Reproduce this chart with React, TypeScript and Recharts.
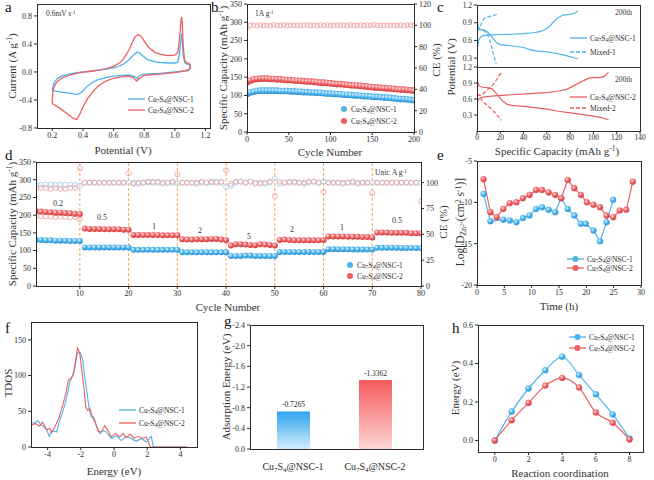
import React from "react";
import {
  LineChart,
  Line,
  XAxis,
  YAxis,
  ScatterChart,
  Scatter,
  ReferenceLine,
  BarChart,
  Bar,
  Cell,
} from "recharts";

const SERIF = "'Times New Roman', 'Liberation Serif', Times, serif";
const INK = "#2b2b2b";
const BLUE = "#4db4ea";
const RED = "#ec5f62";
const BLUE_LT = "#9fd3f1";
const RED_LT = "#f3a3a4";
const ORANGE = "#f5a65b";

// ---- a: cyclic voltammetry, 0.6 mV/s (loops, drawn in scan order)
const cvBlue = [
  [0.2, -0.27], [0.205, -0.2], [0.215, -0.14], [0.23, -0.1], [0.26, -0.06], [0.3, -0.035],
  [0.35, -0.015], [0.4, 0.0], [0.45, 0.01], [0.5, 0.025], [0.55, 0.04], [0.6, 0.06],
  [0.64, 0.085], [0.67, 0.12], [0.7, 0.17], [0.72, 0.22], [0.74, 0.26], [0.755, 0.285],
  [0.77, 0.27], [0.79, 0.23], [0.82, 0.18], [0.86, 0.15], [0.9, 0.138], [0.95, 0.128],
  [1.0, 0.128], [1.02, 0.14], [1.03, 0.25], [1.04, 0.45], [1.045, 0.555], [1.05, 0.45],
  [1.055, 0.25], [1.065, 0.13], [1.08, 0.11], [1.1, 0.1], [1.1, 0.05],
  [1.09, 0.02], [1.05, 0.01], [1.0, 0.0], [0.95, -0.01], [0.9, -0.02], [0.85, -0.025],
  [0.8, -0.03], [0.77, -0.05], [0.755, -0.09], [0.74, -0.07], [0.72, -0.05], [0.7, -0.045],
  [0.65, -0.05], [0.6, -0.06], [0.55, -0.08], [0.5, -0.11], [0.46, -0.15], [0.42, -0.22],
  [0.39, -0.29], [0.37, -0.32], [0.35, -0.315], [0.3, -0.3], [0.25, -0.285], [0.22, -0.275],
  [0.2, -0.27],
];
const cvRed = [
  [0.2, -0.45], [0.203, -0.3], [0.21, -0.22], [0.23, -0.14], [0.27, -0.08], [0.32, -0.04],
  [0.38, -0.01], [0.45, 0.01], [0.5, 0.025], [0.55, 0.045], [0.6, 0.08], [0.64, 0.13],
  [0.67, 0.2], [0.7, 0.31], [0.72, 0.41], [0.74, 0.5], [0.76, 0.535], [0.78, 0.51],
  [0.8, 0.44], [0.83, 0.35], [0.87, 0.28], [0.91, 0.25], [0.95, 0.235], [1.0, 0.24],
  [1.02, 0.28], [1.03, 0.45], [1.04, 0.72], [1.045, 0.785], [1.05, 0.65], [1.055, 0.35],
  [1.065, 0.16], [1.08, 0.13], [1.1, 0.11], [1.1, 0.05],
  [1.09, 0.03], [1.05, 0.01], [1.0, -0.01], [0.9, -0.03], [0.8, -0.05], [0.77, -0.09],
  [0.75, -0.13], [0.73, -0.08], [0.7, -0.06], [0.65, -0.07], [0.6, -0.09], [0.55, -0.13],
  [0.5, -0.2], [0.47, -0.27], [0.43, -0.38], [0.4, -0.5], [0.38, -0.6], [0.36, -0.68],
  [0.33, -0.65], [0.3, -0.6], [0.25, -0.52], [0.2, -0.45],
];
const aXTicks = [0.2, 0.4, 0.6, 0.8, 1.0, 1.2];
const aYTicks = [-0.8, -0.4, 0, 0.4, 0.8];

// ---- b: cycling at 1 A/g (every 4th cycle)
const bCycle = [
  0, 4, 8, 12, 16, 20, 24, 28, 32, 36, 40, 44, 48, 52, 56, 60, 64, 68, 72, 76, 80, 84, 88, 92,
  96, 100, 104, 108, 112, 116, 120, 124, 128, 132, 136, 140, 144, 148, 152, 156, 160, 164, 168,
  172, 176, 180, 184, 188, 192, 196, 200,
];
const bCapBlue = [
  104, 108, 110, 112, 113, 113, 113, 113, 113, 113, 112, 112, 112, 111, 111, 110, 110, 109, 109,
  108, 108, 107, 107, 106, 105, 105, 104, 104, 103, 102, 102, 101, 100, 100, 99, 98, 98, 97, 96,
  96, 95, 94, 94, 93, 92, 91, 90, 90, 89, 88, 87,
];
const bCapRed = [
  136, 141, 144, 145, 146, 146, 146, 145, 145, 144, 144, 143, 142, 142, 141, 140, 140, 139, 138,
  138, 137, 136, 135, 135, 134, 133, 132, 131, 131, 130, 129, 128, 127, 127, 126, 125, 124, 123,
  122, 122, 121, 120, 119, 119, 118, 117, 116, 116, 115, 114, 113,
];
const bCE = [
  97.5, 99.8, 100.2, 99.6, 100.3, 99.9, 100.1, 99.7, 100.4, 99.8, 100, 100.3, 99.6, 100.1, 99.9,
  100.2, 99.7, 100, 100.4, 99.8, 100.1, 99.6, 100.2, 99.9, 100.3, 99.7, 100, 100.2, 99.8, 100.1,
  99.6, 100.3, 99.9, 100, 100.2, 99.7, 100.1, 99.8, 100.3, 99.9, 100, 99.7, 100.2, 99.9, 100.1,
  99.8, 100.3, 99.6, 100, 100.2, 99.9,
];

// ---- c: GCD profiles at 200th cycle
const cBlueCh = [
  [0, 0.45], [0.5, 0.5], [1.5, 0.6], [3, 0.66], [6, 0.685], [12, 0.695], [20, 0.7], [30, 0.705],
  [40, 0.715], [48, 0.73], [54, 0.75], [58, 0.78], [62, 0.83], [66, 0.92], [70, 0.99],
  [74, 1.03], [80, 1.04], [84, 1.06], [86.5, 1.1],
];
const cBlueDis = [
  [0.3, 0.96], [1, 0.85], [2, 0.79], [5, 0.78], [8, 0.76], [11, 0.7], [14, 0.63], [17, 0.56],
  [20, 0.53], [29, 0.51], [40, 0.48], [46, 0.44], [52, 0.42], [63, 0.4], [75, 0.35],
  [86.5, 0.29],
];
const cMix1Ch = [[0, 0.76], [2, 0.8], [4, 0.9], [6, 0.97], [10, 1.0], [14, 1.02], [18, 1.05]];
const cMix1Dis = [[0, 0.8], [3, 0.78], [6, 0.77], [9, 0.7], [11, 0.6], [13, 0.45], [15, 0.3], [16.5, 0.2]];
const cRedCh = [
  [0, 0.55], [2, 0.61], [6, 0.64], [15, 0.66], [30, 0.68], [45, 0.7], [60, 0.72], [70, 0.75],
  [77, 0.78], [85, 0.87], [92, 0.95], [97, 1.0], [105, 1.0], [109, 1.02], [113, 1.1],
];
const cRedDis = [
  [0, 0.93], [1, 0.9], [2, 0.84], [5, 0.82], [10, 0.81], [13, 0.79], [16, 0.72], [19, 0.64],
  [22, 0.56], [26, 0.5], [30, 0.48], [40, 0.46], [50, 0.44], [60, 0.41], [70, 0.37], [80, 0.34],
  [90, 0.31], [100, 0.28], [107, 0.25], [113, 0.21],
];
const cMix2Ch = [[0, 0.66], [4, 0.68], [8, 0.75], [12, 0.83], [15, 0.9], [17, 0.97], [19, 1.04], [21, 1.09]];
const cMix2Dis = [[0, 0.72], [2, 0.65], [5, 0.55], [9, 0.48], [13, 0.4], [16, 0.33], [19, 0.25], [21, 0.2]];
const cXTicks = [0, 20, 40, 60, 80, 100, 120, 140];
const cYTicks = [0.3, 0.6, 0.9, 1.2];

// ---- d: rate performance
const dCycle = Array.from({ length: 80 }, (_, i) => i + 1);
const dCapBlue = [
  130, 130, 129, 129, 128, 128, 128, 127, 127, 127,
  109, 109, 109, 109, 109, 109, 109, 109, 109, 109,
  102, 102, 102, 102, 102, 102, 102, 102, 102, 102,
  95, 95, 95, 95, 95, 95, 95, 95, 95, 95,
  85, 85, 85, 86, 86, 85, 85, 85, 85, 85,
  96, 96, 96, 96, 96, 96, 96, 96, 96, 96,
  104, 104, 104, 104, 104, 103, 103, 103, 103, 103,
  108, 108, 108, 108, 108, 107, 107, 107, 107, 107,
];
const dCapRed = [
  211, 210, 209, 208, 207, 207, 206, 205, 204, 203,
  162, 161, 161, 161, 160, 160, 160, 160, 159, 159,
  144, 144, 144, 144, 144, 144, 143, 143, 143, 143,
  132, 131, 131, 132, 132, 132, 133, 133, 131, 129,
  114, 118, 118, 117, 116, 115, 118, 117, 116, 114,
  130, 131, 130, 129, 129, 129, 129, 129, 129, 130,
  140, 140, 140, 140, 139, 139, 139, 138, 138, 137,
  151, 151, 151, 150, 150, 150, 150, 149, 149, 149,
];
const dCEBlue = [
  98, 98, 98, 98, 98, 98, 98, 98, 98, 97,
  100, 100, 100, 100, 100, 100, 100, 100, 100, 100,
  100, 99, 100, 100, 101, 100, 99, 100, 100, 99,
  100, 100, 100, 99, 100, 100, 100, 101, 100, 96,
  97, 100, 101, 100, 101, 100, 99, 99, 100, 104,
  99, 100, 101, 100, 100, 99, 100, 101, 100, 101,
  100, 100, 100, 99, 100, 100, 99, 100, 100, 100,
  100, 100, 100, 100, 100, 100, 100, 100, 100, 100,
];
const dCERed = [
  95, 95, 95, 94, 95, 94, 94, 95, 95, 114,
  100, 100, 100, 100, 100, 100, 100, 100, 100, 109,
  99, 100, 100, 101, 100, 101, 100, 100, 101, 108,
  100, 100, 100, 100, 101, 100, 101, 100, 101, 112,
  99, 101, 101, 100, 101, 99, 100, 100, 101, 87,
  101, 100, 100, 101, 100, 100, 101, 101, 100, 91,
  100, 100, 100, 100, 100, 101, 100, 100, 100, 90,
  100, 100, 100, 100, 100, 100, 100, 100, 100, 82,
];
const dRedOpenFirst = [198, 197, 196, 196, 195, 195, 195, 194, 194, 188];
const dSwitch = [10, 20, 30, 40, 50, 60, 70];

// ---- e: GITT diffusion coefficient
const eBlue = [
  [1.2, -9.0], [2.45, -12.3], [4.8, -12.1], [6.0, -12.2], [7.2, -12.4], [8.4, -11.9],
  [9.6, -11.6], [10.8, -10.8], [11.9, -10.6], [13.1, -10.9], [14.3, -11.2], [15.4, -9.5],
  [16.6, -10.8], [17.8, -11.6], [19.0, -12.6], [19.9, -12.6], [21.3, -13.4], [22.5, -14.7],
  [23.7, -12.4], [24.9, -9.7],
];
const eRed = [
  [1.2, -7.2], [2.45, -11.2], [3.6, -11.8], [4.8, -10.8], [6.0, -10.1], [7.2, -10.0],
  [8.4, -9.5], [9.6, -9.1], [10.8, -8.5], [11.9, -8.5], [13.1, -8.8], [14.3, -9.1],
  [15.4, -9.5], [16.6, -7.3], [17.8, -8.3], [19.0, -9.1], [20.1, -10.0], [21.3, -10.3],
  [22.5, -10.6], [23.7, -11.6], [24.9, -11.8], [26.1, -11.0], [27.3, -10.9], [28.5, -7.5],
];

// ---- f: TDOS
const fBlue = [
  [-5, 35], [-4.8, 33], [-4.6, 37], [-4.4, 31], [-4.2, 28], [-4.0, 21], [-3.9, 15], [-3.75, 23],
  [-3.6, 22], [-3.45, 21], [-3.3, 35], [-3.06, 51], [-2.86, 68], [-2.66, 91], [-2.56, 96],
  [-2.46, 103], [-2.36, 110], [-2.22, 131], [-2.06, 133], [-1.9, 124], [-1.76, 98], [-1.62, 75],
  [-1.5, 54], [-1.36, 42], [-1.22, 42], [-1.06, 30], [-0.86, 19], [-0.66, 23], [-0.46, 21],
  [-0.16, 12], [0.14, 16], [0.44, 9], [0.74, 15], [1.04, 12], [1.34, 8], [1.64, 12], [1.94, 7],
  [2.24, 15], [2.38, 0], [4.4, 0],
];
const fRed = [
  [-5, 30], [-4.74, 33], [-4.48, 29], [-4.3, 35], [-4.06, 24], [-3.86, 26], [-3.76, 20],
  [-3.56, 28], [-3.3, 42], [-3.06, 61], [-2.9, 75], [-2.76, 93], [-2.62, 96], [-2.46, 100],
  [-2.34, 117], [-2.2, 139], [-2.06, 131], [-1.94, 107], [-1.82, 84], [-1.7, 56], [-1.58, 51],
  [-1.46, 54], [-1.3, 42], [-1.14, 35], [-0.96, 22], [-0.76, 21], [-0.56, 30], [-0.36, 23],
  [-0.16, 14], [0.1, 19], [0.34, 14], [0.54, 19], [0.74, 13], [0.98, 18], [1.2, 12], [1.44, 15],
  [1.7, 12], [1.94, 14], [2.1, 6], [2.18, 0], [4.4, 0],
];

// ---- g: adsorption energy
const gNames = ["Cu7S4@NSC-1", "Cu7S4@NSC-2"];
const gValues = [-0.7265, -1.3362];

// ---- h: diffusion barrier
const hCoord = [0, 1, 2, 3, 4, 5, 6, 7, 8];
const hBlue = [0, 0.15, 0.27, 0.365, 0.435, 0.34, 0.24, 0.135, 0.01];
const hRed = [0, 0.105, 0.195, 0.285, 0.325, 0.275, 0.145, 0.092, 0.005];

const pts = (a: number[][]) => a.map(([x, y]) => ({ x, y }));
const zipXY = (xs: number[], ys: number[]) => xs.map((x, i) => ({ x, y: ys[i] }));
const f1 = (v: number) => v.toFixed(1);

type Box = { x: number; y: number; w: number; h: number };
const size = (b: Box, l: number, r: number, t: number, bt: number) => ({
  width: b.w + l + r,
  height: b.h + t + bt,
});

const tk = { fontSize: 8, fill: INK, fontFamily: SERIF };
const axX = {
  tick: tk,
  tickSize: 3,
  tickMargin: 1,
  axisLine: false,
  tickLine: { stroke: INK },
  height: 16,
  allowDataOverflow: true,
  interval: 0 as const,
};
const axY = { ...axX, tickMargin: 2, width: 32 };

const ballDefs = (p: string) => (
  <defs>
    <radialGradient id={`${p}B`} cx="38%" cy="35%" r="65%">
      <stop offset="0%" stopColor="#e2f5ff" />
      <stop offset="55%" stopColor="#48b2ec" />
      <stop offset="100%" stopColor="#2a8ccc" />
    </radialGradient>
    <radialGradient id={`${p}R`} cx="38%" cy="35%" r="65%">
      <stop offset="0%" stopColor="#ffe2e2" />
      <stop offset="55%" stopColor="#ee5e61" />
      <stop offset="100%" stopColor="#d0393d" />
    </radialGradient>
  </defs>
);
const ball = (fill: string, r = 3) => (p: any) => <circle cx={p.cx} cy={p.cy} r={r} fill={fill} />;
const ring = (stroke: string, r = 2.5) => (p: any) => (
  <circle cx={p.cx} cy={p.cy} r={r} fill="none" stroke={stroke} strokeWidth={0.9} />
);
const lineBall = (fill: string, stroke: string) => (p: any) => (
  <circle key={`d${p.index}`} cx={p.cx} cy={p.cy} r={3} fill={fill} stroke={stroke} strokeWidth={0.4} />
);

function Frame({ b }: { b: Box }) {
  return (
    <div
      style={{
        position: "absolute",
        left: b.x,
        top: b.y,
        width: b.w + 1,
        height: b.h + 1,
        border: `1px solid ${INK}`,
        boxSizing: "border-box",
        pointerEvents: "none",
      }}
    />
  );
}

function Slot({ b, l, t, children }: { b: Box; l: number; t: number; children: React.ReactNode }) {
  return <div style={{ position: "absolute", left: b.x - l, top: b.y - t }}>{children}</div>;
}

const Sub = ({ children }: { children: React.ReactNode }) => (
  <span style={{ fontSize: "0.68em", verticalAlign: "-0.25em", lineHeight: 0 }}>{children}</span>
);
const Sup = ({ children }: { children: React.ReactNode }) => (
  <span style={{ fontSize: "0.68em", verticalAlign: "0.45em", lineHeight: 0 }}>{children}</span>
);
const Cu = ({ n }: { n: number }) => (
  <>
    Cu<Sub>7</Sub>S<Sub>4</Sub>@NSC-{n}
  </>
);

function Txt({
  x, y, size = 8, rot = false, left = false, children,
}: { x: number; y: number; size?: number; rot?: boolean; left?: boolean; children: React.ReactNode }) {
  const base = left ? "translate(0,-50%)" : "translate(-50%,-50%)";
  return (
    <div
      style={{
        position: "absolute",
        left: x,
        top: y,
        fontSize: size,
        fontWeight: 400,
        lineHeight: 1,
        whiteSpace: "nowrap",
        color: "#333",
        transform: rot ? `${base} rotate(-90deg)` : base,
      }}
    >
      {children}
    </div>
  );
}

function Key({
  x, y, color, kind, children,
}: { x: number; y: number; color: string; kind: "line" | "dash" | "ball" | "lineball"; children: React.ReactNode }) {
  const w = kind === "ball" ? 8 : 17;
  return (
    <div
      style={{
        position: "absolute",
        left: x,
        top: y - 5,
        height: 10,
        display: "flex",
        alignItems: "center",
        fontSize: 7.5,
        whiteSpace: "nowrap",
        color: INK,
      }}
    >
      <svg width={w} height={10} style={{ marginRight: 3 }}>
        {kind !== "ball" && (
          <line x1={0} x2={w} y1={5} y2={5} stroke={color} strokeWidth={1.3}
            strokeDasharray={kind === "dash" ? "4 2" : undefined} />
        )}
        {(kind === "ball" || kind === "lineball") && <circle cx={w / 2} cy={5} r={3} fill={color} />}
      </svg>
      <span>{children}</span>
    </div>
  );
}

const Letter = ({ x, y, c }: { x: number; y: number; c: string }) => (
  <div style={{ position: "absolute", left: x, top: y, fontSize: 15, lineHeight: 1, color: "#111" }}>{c}</div>
);

const CuTick = (props: any) => {
  const { x, y, payload } = props;
  const n = String(payload.value).slice(-1);
  return (
    <text x={x} y={y + 13} textAnchor="middle" fontFamily={SERIF} fontSize={10} fill={INK}>
      Cu<tspan dy={2} fontSize={7}>7</tspan>
      <tspan dy={-2}>S</tspan>
      <tspan dy={2} fontSize={7}>4</tspan>
      <tspan dy={-2}>@NSC-{n}</tspan>
    </text>
  );
};

const A: Box = { x: 37, y: 4, w: 173, h: 124 };
const B: Box = { x: 247, y: 4, w: 167, h: 128 };
const C1: Box = { x: 477, y: 5, w: 163, h: 62 };
const C2: Box = { x: 477, y: 67, w: 163, h: 64 };
const D: Box = { x: 36, y: 162, w: 385, h: 124 };
const E: Box = { x: 477, y: 161, w: 164, h: 124 };
const F: Box = { x: 31, y: 322, w: 166, h: 125 };
const G: Box = { x: 250, y: 325, w: 173, h: 124 };
const H: Box = { x: 478, y: 325, w: 165, h: 127 };

export default function App() {
  const gData = gNames.map((name, i) => ({ name, v: gValues[i] }));
  const hData = hCoord.map((x, i) => ({ x, blue: hBlue[i], red: hRed[i] }));
  const lineCommon = { dot: false, activeDot: false, isAnimationActive: false, type: "linear" as const };
  const cTick = { ...tk, fontSize: 7.5 };

  return (
    <div
      style={{
        position: "absolute",
        left: 0,
        top: 0,
        width: 654,
        height: 480,
        background: "#fff",
        fontFamily: SERIF,
        overflow: "hidden",
      }}
    >
      {/* a */}
      <Slot b={A} l={32} t={6}>
        <LineChart {...size(A, 32, 6, 6, 16)} margin={{ top: 6, right: 6, left: 0, bottom: 0 }}>
          <XAxis type="number" dataKey="x" domain={[0.1, 1.23]} ticks={aXTicks} tickFormatter={f1} {...axX} />
          <YAxis type="number" domain={[-0.8, 0.97]} ticks={aYTicks} tickFormatter={f1} {...axY} />
          <Line data={pts(cvBlue)} dataKey="y" stroke={BLUE} strokeWidth={1.3} {...lineCommon} />
          <Line data={pts(cvRed)} dataKey="y" stroke={RED} strokeWidth={1.3} {...lineCommon} />
        </LineChart>
      </Slot>
      <Frame b={A} />
      <Txt x={46} y={14} size={7.5} left>0.6mV s<Sup>-1</Sup></Txt>
      <Key x={128} y={99} color={BLUE} kind="line"><Cu n={1} /></Key>
      <Key x={128} y={110} color={RED} kind="line"><Cu n={2} /></Key>
      <Txt x={12} y={66} size={11} rot>Current (A g<Sup>-1</Sup>)</Txt>
      <Txt x={123} y={150} size={11}>Potential (V)</Txt>

      {/* b */}
      <Slot b={B} l={32} t={6}>
        <ScatterChart {...size(B, 32, 26, 6, 16)} margin={{ top: 6, right: 0, left: 0, bottom: 0 }}>
          {ballDefs("b")}
          <XAxis type="number" dataKey="x" domain={[0, 200]} ticks={[0, 50, 100, 150, 200]} {...axX} />
          <YAxis yAxisId="l" type="number" dataKey="y" domain={[0, 350]}
            ticks={[0, 50, 100, 150, 200, 250, 300, 350]} {...axY} />
          <YAxis yAxisId="r" orientation="right" type="number" dataKey="y" domain={[0, 120]}
            ticks={[0, 20, 40, 60, 80, 100, 120]} {...axY} width={26} />
          <Scatter yAxisId="r" data={zipXY(bCycle, bCE)} shape={ring(RED_LT, 2.3)} isAnimationActive={false} />
          <Scatter yAxisId="l" data={zipXY(bCycle, bCapBlue)} shape={ball("url(#bB)", 3.3)} isAnimationActive={false} />
          <Scatter yAxisId="l" data={zipXY(bCycle, bCapRed)} shape={ball("url(#bR)", 3.3)} isAnimationActive={false} />
        </ScatterChart>
      </Slot>
      <Frame b={B} />
      <Txt x={255} y={14} size={7.5} left>1A g<Sup>-1</Sup></Txt>
      <Key x={340} y={109} color={BLUE} kind="ball"><Cu n={1} /></Key>
      <Key x={340} y={121} color={RED} kind="ball"><Cu n={2} /></Key>
      <Txt x={223} y={68} size={11} rot>Specific Capacity (mAh g<Sup>-1</Sup>)</Txt>
      <Txt x={436} y={60} size={11} rot>CE (%)</Txt>
      <Txt x={330} y={152} size={11}>Cycle Number</Txt>

      {/* c */}
      <Slot b={C1} l={32} t={6}>
        <LineChart {...size(C1, 32, 6, 6, 0)} margin={{ top: 6, right: 6, left: 0, bottom: 0 }}>
          <XAxis type="number" dataKey="x" domain={[0, 140]} hide allowDataOverflow />
          <YAxis type="number" domain={[0.15, 1.2]} ticks={cYTicks} tickFormatter={f1} {...axY} tick={cTick} />
          <Line data={pts(cBlueCh)} dataKey="y" stroke={BLUE} strokeWidth={1.2} {...lineCommon} />
          <Line data={pts(cBlueDis)} dataKey="y" stroke={BLUE} strokeWidth={1.2} {...lineCommon} />
          <Line data={pts(cMix1Ch)} dataKey="y" stroke={BLUE} strokeWidth={1.2} strokeDasharray="4 2" {...lineCommon} />
          <Line data={pts(cMix1Dis)} dataKey="y" stroke={BLUE} strokeWidth={1.2} strokeDasharray="4 2" {...lineCommon} />
        </LineChart>
      </Slot>
      <Slot b={C2} l={32} t={6}>
        <LineChart {...size(C2, 32, 6, 6, 16)} margin={{ top: 6, right: 6, left: 0, bottom: 0 }}>
          <XAxis type="number" dataKey="x" domain={[0, 140]} ticks={cXTicks} {...axX} tick={cTick} />
          <YAxis type="number" domain={[0, 1.2]} ticks={cYTicks} tickFormatter={f1} {...axY} tick={cTick} />
          <Line data={pts(cRedCh)} dataKey="y" stroke={RED} strokeWidth={1.2} {...lineCommon} />
          <Line data={pts(cRedDis)} dataKey="y" stroke={RED} strokeWidth={1.2} {...lineCommon} />
          <Line data={pts(cMix2Ch)} dataKey="y" stroke={RED} strokeWidth={1.2} strokeDasharray="4 2" {...lineCommon} />
          <Line data={pts(cMix2Dis)} dataKey="y" stroke={RED} strokeWidth={1.2} strokeDasharray="4 2" {...lineCommon} />
        </LineChart>
      </Slot>
      <Frame b={C1} />
      <Frame b={C2} />
      <Txt x={615} y={13} size={7.5} left>200th</Txt>
      <Txt x={615} y={80} size={7.5} left>200th</Txt>
      <Key x={570} y={38} color={BLUE} kind="line"><Cu n={1} /></Key>
      <Key x={570} y={52} color={BLUE} kind="dash">Mixed-1</Key>
      <Key x={570} y={97} color={RED} kind="line"><Cu n={2} /></Key>
      <Key x={570} y={108} color={RED} kind="dash">Mixed-2</Key>
      <Txt x={451} y={67} size={11} rot>Potential (V)</Txt>
      <Txt x={557} y={151} size={11}>Specific Capacity (mAh g<Sup>-1</Sup>)</Txt>

      {/* d */}
      <Slot b={D} l={32} t={6}>
        <ScatterChart {...size(D, 32, 24, 6, 16)} margin={{ top: 6, right: 0, left: 0, bottom: 0 }}>
          {ballDefs("d")}
          <XAxis type="number" dataKey="x" domain={[1, 80]} ticks={[10, 20, 30, 40, 50, 60, 70, 80]} {...axX} />
          <YAxis yAxisId="l" type="number" dataKey="y" domain={[0, 350]}
            ticks={[0, 50, 100, 150, 200, 250, 300, 350]} {...axY} />
          <YAxis yAxisId="r" orientation="right" type="number" dataKey="y" domain={[0, 120]}
            ticks={[0, 25, 50, 75, 100]} {...axY} width={24} />
          {dSwitch.map((c) => (
            <ReferenceLine key={c} yAxisId="l" x={c} stroke={ORANGE} strokeWidth={1} strokeDasharray="3 2" />
          ))}
          <Scatter yAxisId="r" data={zipXY(dCycle, dCEBlue)} shape={ring(BLUE_LT)} isAnimationActive={false} />
          <Scatter yAxisId="r" data={zipXY(dCycle, dCERed)} shape={ring(RED_LT)} isAnimationActive={false} />
          <Scatter yAxisId="l" data={zipXY(dCycle.slice(0, 10), dRedOpenFirst)} shape={ring(RED_LT)} isAnimationActive={false} />
          <Scatter yAxisId="l" data={zipXY(dCycle, dCapBlue)} shape={ball("url(#dB)")} isAnimationActive={false} />
          <Scatter yAxisId="l" data={zipXY(dCycle, dCapRed)} shape={ball("url(#dR)")} isAnimationActive={false} />
        </ScatterChart>
      </Slot>
      <Frame b={D} />
      <Txt x={58} y={204} size={8}>0.2</Txt>
      <Txt x={102} y={218} size={8}>0.5</Txt>
      <Txt x={154} y={227} size={8}>1</Txt>
      <Txt x={200} y={231} size={8}>2</Txt>
      <Txt x={249} y={237} size={8}>5</Txt>
      <Txt x={292} y={230} size={8}>2</Txt>
      <Txt x={342} y={228} size={8}>1</Txt>
      <Txt x={397} y={221} size={8}>0.5</Txt>
      <Txt x={375} y={173} size={7.5} left>Unit: A g<Sup>-1</Sup></Txt>
      <Key x={346} y={265} color={BLUE} kind="ball"><Cu n={1} /></Key>
      <Key x={346} y={276} color={RED} kind="ball"><Cu n={2} /></Key>
      <Txt x={12} y={224} size={11} rot>Specific Capacity (mAh g<Sup>-1</Sup>)</Txt>
      <Txt x={443} y={222} size={11} rot>CE (%)</Txt>
      <Txt x={228} y={307} size={11}>Cycle Number</Txt>

      {/* e */}
      <Slot b={E} l={32} t={6}>
        <LineChart {...size(E, 32, 6, 6, 16)} margin={{ top: 6, right: 6, left: 0, bottom: 0 }}>
          {ballDefs("e")}
          <XAxis type="number" dataKey="x" domain={[0, 30]} ticks={[0, 5, 10, 15, 20, 25, 30]} {...axX} />
          <YAxis type="number" domain={[-20, -5]} ticks={[-20, -15, -10, -5]} {...axY} />
          <Line data={pts(eBlue)} dataKey="y" stroke={BLUE} strokeWidth={1.2} type="linear"
            dot={lineBall("url(#eB)", BLUE)} activeDot={false} isAnimationActive={false} />
          <Line data={pts(eRed)} dataKey="y" stroke={RED} strokeWidth={1.2} type="linear"
            dot={lineBall("url(#eR)", RED)} activeDot={false} isAnimationActive={false} />
        </LineChart>
      </Slot>
      <Frame b={E} />
      <Key x={567} y={259} color={BLUE} kind="lineball"><Cu n={1} /></Key>
      <Key x={567} y={268} color={RED} kind="lineball"><Cu n={2} /></Key>
      <Txt x={461} y={222} size={11.5} rot>
        Log[D<Sub>Zn<Sup>2+</Sup></Sub>(cm<Sup>2</Sup> s<Sup>-1</Sup>)]
      </Txt>
      <Txt x={559} y={306} size={11}>Time (h)</Txt>

      {/* f */}
      <Slot b={F} l={32} t={6}>
        <LineChart {...size(F, 32, 6, 6, 16)} margin={{ top: 6, right: 6, left: 0, bottom: 0 }}>
          <XAxis type="number" dataKey="x" domain={[-5, 5]} ticks={[-4, -2, 0, 2, 4]} {...axX} />
          <YAxis type="number" domain={[0, 175]} ticks={[0, 50, 100, 150]} {...axY} />
          <Line data={pts(fBlue)} dataKey="y" stroke={BLUE} strokeWidth={1.1} {...lineCommon} />
          <Line data={pts(fRed)} dataKey="y" stroke={RED} strokeWidth={1.1} {...lineCommon} />
        </LineChart>
      </Slot>
      <Frame b={F} />
      <Key x={119} y={410} color={BLUE} kind="line"><Cu n={1} /></Key>
      <Key x={119} y={423} color={RED} kind="line"><Cu n={2} /></Key>
      <Txt x={8} y={383} size={11} rot>TDOS</Txt>
      <Txt x={114} y={471} size={11}>Energy (eV)</Txt>

      {/* g */}
      <Slot b={G} l={32} t={6}>
        <BarChart {...size(G, 32, 6, 6, 26)} data={gData} margin={{ top: 6, right: 6, left: 0, bottom: 0 }}>
          <defs>
            <linearGradient id="gB" x1="0" y1="0" x2="0" y2="1">
              <stop offset="0%" stopColor="#2ea4f1" />
              <stop offset="100%" stopColor="#d4eefc" />
            </linearGradient>
            <linearGradient id="gR" x1="0" y1="0" x2="0" y2="1">
              <stop offset="0%" stopColor="#f55a5c" />
              <stop offset="100%" stopColor="#fdd6d6" />
            </linearGradient>
          </defs>
          <XAxis dataKey="name" type="category" tick={<CuTick />} tickLine={false} axisLine={false}
            height={26} padding={{ left: 2, right: 7 }} interval={0} />
          <YAxis type="number" reversed domain={[-2.4, 0]} ticks={[-2.4, -2.0, -1.6, -1.2, -0.8, -0.4, 0]}
            tickFormatter={f1} {...axY} />
          <Bar dataKey="v" barSize={33} isAnimationActive={false}
            label={(p: any) => (
              <text x={p.x + p.width / 2} y={Math.min(p.y, p.y + p.height) - 4} textAnchor="middle"
                fontFamily={SERIF} fontSize={7.5} fill={INK}>{String(p.value)}</text>
            )}>
            {gData.map((d, i) => (
              <Cell key={d.name} fill={i === 0 ? "url(#gB)" : "url(#gR)"} />
            ))}
          </Bar>
        </BarChart>
      </Slot>
      <Frame b={G} />
      <Txt x={226} y={387} size={11} rot>Adsorption Energy (eV)</Txt>

      {/* h */}
      <Slot b={H} l={32} t={6}>
        <LineChart {...size(H, 32, 6, 6, 16)} data={hData} margin={{ top: 6, right: 6, left: 0, bottom: 0 }}>
          {ballDefs("h")}
          <XAxis type="number" dataKey="x" domain={[-1, 8.8]} ticks={[0, 2, 4, 6, 8]} {...axX} />
          <YAxis type="number" domain={[-0.06, 0.6]} ticks={[0, 0.2, 0.4, 0.6]} tickFormatter={f1} {...axY} />
          <Line dataKey="blue" stroke={BLUE} strokeWidth={1.2} type="monotone"
            dot={lineBall("url(#hB)", BLUE)} activeDot={false} isAnimationActive={false} />
          <Line dataKey="red" stroke={RED} strokeWidth={1.2} type="monotone"
            dot={lineBall("url(#hR)", RED)} activeDot={false} isAnimationActive={false} />
        </LineChart>
      </Slot>
      <Frame b={H} />
      <Key x={569} y={337} color={BLUE} kind="lineball"><Cu n={1} /></Key>
      <Key x={569} y={348} color={RED} kind="lineball"><Cu n={2} /></Key>
      <Txt x={455} y={388} size={11} rot>Energy (eV)</Txt>
      <Txt x={560} y={473} size={11}>Reaction coordination</Txt>

      <Letter x={5} y={0} c="a" />
      <Letter x={211} y={0} c="b" />
      <Letter x={437} y={0} c="c" />
      <Letter x={5} y={148} c="d" />
      <Letter x={437} y={148} c="e" />
      <Letter x={5} y={321} c="f" />
      <Letter x={224} y={314} c="g" />
      <Letter x={452} y={321} c="h" />
    </div>
  );
}
